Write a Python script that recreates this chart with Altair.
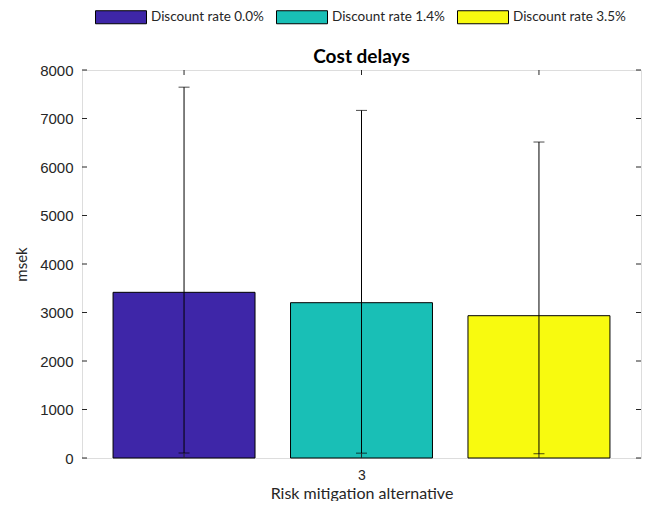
import altair as alt
import pandas as pd

# ---- data ----
chart_title = "Cost delays"
group_label = "3"
series = ["Discount rate 0.0%", "Discount rate 1.4%", "Discount rate 3.5%"]
means = [3416, 3202, 2934]
upper = [7646, 7167, 6515]
lower = [103, 100, 88]
colors = ["#3E26A8", "#19BFB6", "#F8FA0F"]
y_ticks = [0, 1000, 2000, 3000, 4000, 5000, 6000, 7000, 8000]

W, H = 559, 388
HALF_BAR = 0.4
CAP = 11

df = pd.DataFrame({
    "series": series,
    "pos": [i - (len(series) - 1) / 2 for i in range(len(series))],
    "mean": means,
    "upper": upper,
    "lower": lower,
})
ticks_df = pd.DataFrame({"tick": y_ticks})
title_df = pd.DataFrame({"t": [chart_title]})

x_scale = alt.Scale(domain=[-1.575, 1.575], nice=False, zero=False)
y_scale = alt.Scale(domain=[0, 8000], nice=False)

base = alt.Chart(df)

legend_path = "M-1,-0.255L1,-0.255L1,0.255L-1,0.255Z"

bars = base.transform_calculate(
    x0=f"datum.pos - {HALF_BAR}", x1=f"datum.pos + {HALF_BAR}"
).mark_bar(stroke="black", strokeWidth=1, opacity=1).encode(
    x=alt.X("x0:Q", scale=x_scale,
            axis=alt.Axis(values=[0], labelExpr=f"'{group_label}'", ticks=False,
                          domain=False, grid=False,
                          labelFont="Liberation Sans", labelFontSize=14,
                          labelColor="#262626", labelPadding=10,
                          title="Risk mitigation alternative",
                          titleFont="Lato", titleFontSize=16, titleFontWeight="normal",
                          titleColor="#262626", titlePadding=3)),
    x2="x1:Q",
    y=alt.Y("mean:Q", scale=y_scale,
            axis=alt.Axis(values=y_ticks, format="d", ticks=False, domain=False, grid=False,
                          labelFont="Liberation Sans", labelFontSize=15,
                          labelColor="#262626", labelPadding=9,
                          title="msek", titleFont="Lato", titleFontSize=15,
                          titleFontWeight="normal", titleColor="#262626",
                          titlePadding=10)),
    y2=alt.datum(0),
    fill=alt.Fill("series:N", scale=alt.Scale(domain=series, range=colors),
                  legend=alt.Legend(title=None, orient="none", legendX=13, legendY=-79,
                                    direction="horizontal", symbolType=legend_path,
                                    symbolSize=2601, symbolStrokeColor="black",
                                    symbolStrokeWidth=1, symbolOpacity=1,
                                    labelFont="Lato", labelFontSize=13.5,
                                    labelColor="#262626", labelOffset=4,
                                    columnPadding=10)),
)

err = base.mark_rule(color="black", strokeWidth=1).encode(
    x=alt.X("pos:Q", scale=x_scale), y=alt.Y("lower:Q", scale=y_scale), y2="upper:Q"
)
cap_hi = base.mark_tick(color="black", orient="horizontal", size=CAP, thickness=1).encode(
    x=alt.X("pos:Q", scale=x_scale), y=alt.Y("upper:Q", scale=y_scale)
)
cap_lo = base.mark_tick(color="black", orient="horizontal", size=CAP, thickness=1).encode(
    x=alt.X("pos:Q", scale=x_scale), y=alt.Y("lower:Q", scale=y_scale)
)

tick_color = "#262626"
top_ticks = base.mark_rule(color=tick_color, strokeWidth=1).encode(
    x=alt.X("pos:Q", scale=x_scale), y=alt.value(0), y2=alt.value(5)
)
bottom_ticks = base.mark_rule(color=tick_color, strokeWidth=1).encode(
    x=alt.X("pos:Q", scale=x_scale), y=alt.value(H - 5), y2=alt.value(H)
)
left_ticks = alt.Chart(ticks_df).mark_rule(color=tick_color, strokeWidth=1).encode(
    y=alt.Y("tick:Q", scale=y_scale), x=alt.value(0), x2=alt.value(5)
)
right_ticks = alt.Chart(ticks_df).mark_rule(color=tick_color, strokeWidth=1).encode(
    y=alt.Y("tick:Q", scale=y_scale), x=alt.value(W - 5), x2=alt.value(W)
)
title_text = alt.Chart(title_df).mark_text(
    font="Lato", fontSize=19, fontWeight="bold", color="black",
    align="center", baseline="alphabetic"
).encode(text="t:N", x=alt.value(W / 2), y=alt.value(-7))

chart = alt.layer(
    bars, err, cap_hi, cap_lo, top_ticks, bottom_ticks, left_ticks, right_ticks, title_text
).properties(
    width=W, height=H,
    autosize=alt.AutoSizeParams(type="none"),
    padding={"left": 74, "top": 62, "right": 1, "bottom": 43},
).configure_view(
    stroke="#262626", strokeWidth=1
).configure(background="white")

chart.save("out.html", embed_options={"renderer": "svg", "actions": False})
